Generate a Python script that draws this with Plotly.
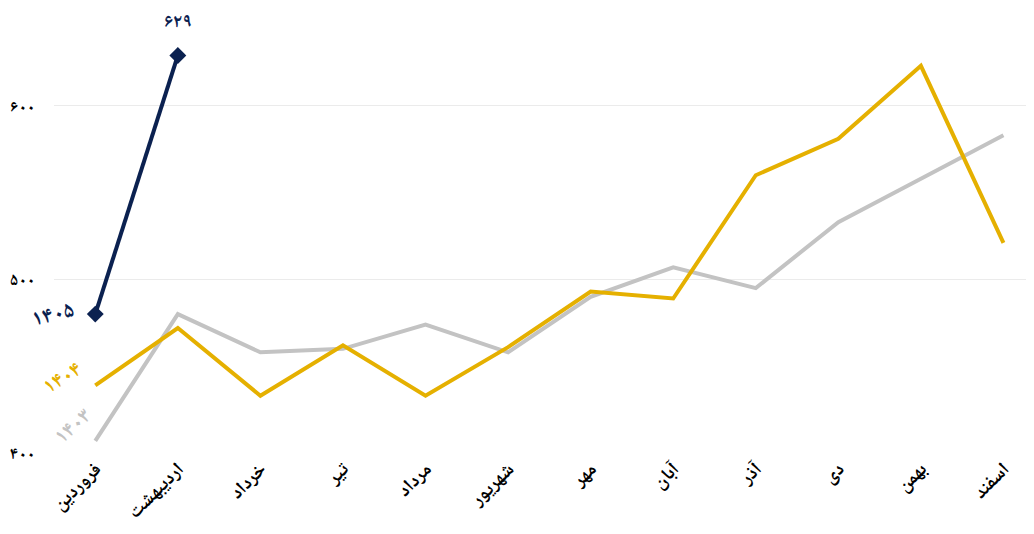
import plotly.graph_objects as go

months = ["فروردین", "اردیبهشت", "خرداد", "تیر", "مرداد", "شهریور",
          "مهر", "آبان", "آذر", "دی", "بهمن", "اسفند"]
v1403 = [407, 480, 458, 460, 474, 458, 490, 507, 495, 533, 558, 583]
v1404 = [439, 472, 433, 462, 433, 461, 493, 489, 560, 581, 623, 521]
v1405 = [480, 629]
yticks = [400, 500, 600]
ytick_text = ["۴۰۰", "۵۰۰", "۶۰۰"]

NAVY = "#0b2150"
GOLD = "#e5b000"
GRAY = "#c3c3c3"
FONT = "Noto Naskh Arabic, DejaVu Sans, sans-serif"

x_idx = list(range(len(months)))

fig = go.Figure()
fig.add_trace(go.Scatter(x=x_idx, y=v1403, mode="lines",
                         line=dict(color=GRAY, width=4), hoverinfo="skip"))
fig.add_trace(go.Scatter(x=x_idx, y=v1404, mode="lines",
                         line=dict(color=GOLD, width=4), hoverinfo="skip"))
fig.add_trace(go.Scatter(x=x_idx[:len(v1405)], y=v1405, mode="lines+markers",
                         line=dict(color=NAVY, width=4),
                         marker=dict(symbol="diamond", size=13, color=NAVY),
                         hoverinfo="skip"))

# series labels
fig.add_annotation(x=0, y=v1405[0], text="۱۴۰۵", showarrow=False,
                   xshift=-42, yshift=-2, textangle=-14,
                   font=dict(color=NAVY, size=22, family=FONT, weight="bold"))
fig.add_annotation(x=0, y=v1404[0], text="۱۴۰۴", showarrow=False,
                   xshift=-32, yshift=6, textangle=-32,
                   font=dict(color=GOLD, size=21, family=FONT, weight="bold"))
fig.add_annotation(x=0, y=v1403[0], text="۱۴۰۳", showarrow=False,
                   xshift=-21, yshift=13, textangle=-42,
                   font=dict(color=GRAY, size=21, family=FONT, weight="bold"))
# value label
fig.add_annotation(x=1, y=v1405[1], text="۶۲۹", showarrow=False,
                   yshift=32, font=dict(color=NAVY, size=19, family=FONT, weight="bold"))

fig.update_layout(
    width=1034, height=534,
    margin=dict(l=46, r=8, t=11, b=89, autoexpand=False),
    plot_bgcolor="white", paper_bgcolor="white",
    showlegend=False,
    font=dict(family=FONT, color="black"),
    xaxis=dict(tickmode="array", tickvals=x_idx, ticktext=months,
               range=[-0.5, 11.37], tickangle=-45, showgrid=False,
               zeroline=False, showline=False, automargin=False,
               tickfont=dict(size=19, color="black", family=FONT, weight="bold")),
    yaxis=dict(tickmode="array", tickvals=yticks, ticktext=ytick_text,
               range=[400, 650], showgrid=True, gridcolor="#ebebeb",
               gridwidth=1, zeroline=False, showline=False, ticks="",
               ticklabelstandoff=18, automargin=False,
               tickfont=dict(size=17, color="black", family=FONT, weight="bold")),
)

fig.write_html("out.html")
